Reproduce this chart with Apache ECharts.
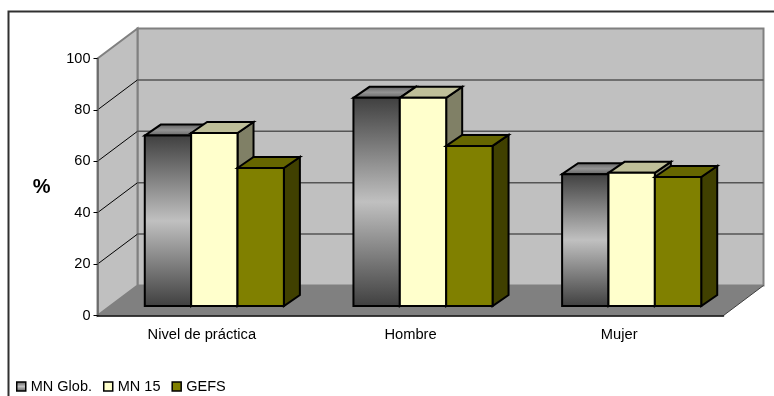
<!DOCTYPE html>
<html>
<head>
<meta charset="utf-8">
<style>html,body{margin:0;padding:0;background:#fff}#chart{width:774px;height:396px}</style>
<script src="https://cdn.jsdelivr.net/npm/echarts@6/dist/echarts.min.js"></script>
</head>
<body>
<div id="chart"></div>
<script>
// Chart content
const categories = ['Nivel de práctica', 'Hombre', 'Mujer'];
const mnGlob = [66.3, 81, 51.3];
const mn15 = [67.3, 81, 51.8];
const gefs = [53.7, 62.3, 50.2];
const yTicks = [0, 20, 40, 60, 80, 100];
const seriesNames = ['MN Glob.', 'MN 15', 'GEFS'];

// Oblique projection of the box and the bars, in pixels
const WALL_DX = 40, WALL_DY = 30;
const BAR_DX = 12.5, BAR_DY = 9.5;
const BAR_DEPTH_X = 16, BAR_DEPTH_Y = 11;
const FONT = '"Liberation Sans", Arial, sans-serif';

const vGrad = (a, b) => ({
  type: 'linear', x: 0, y: 0, x2: 0, y2: 1,
  colorStops: [{ offset: 0, color: a }, { offset: 0.5, color: b }, { offset: 1, color: a }]
});

const faces = [
  { front: vGrad('#3f3f3f', '#c0c0c0'), top: vGrad('#5e5e5e', '#949494'), side: '#555555' },
  { front: '#ffffcc', top: '#bfbf99', side: '#808066' },
  { front: '#808000', top: '#666600', side: '#404000' }
];

const poly = (points, fill, stroke, width) => ({
  type: 'polygon',
  shape: { points },
  style: { fill: fill, stroke: stroke || null, lineWidth: width || 0, lineJoin: 'miter' }
});
const line = (a, b, stroke, width) => ({
  type: 'line',
  shape: { x1: a[0], y1: a[1], x2: b[0], y2: b[1] },
  style: { stroke, lineWidth: width }
});

// Walls, floor and gridlines of the box, one tick at a time
function renderBox(params, api) {
  const g = params.coordSys;
  const tick = api.value(1);
  const y = api.coord([0, tick])[1];
  const x0 = g.x, x1 = g.x + g.width;
  const yT = g.y, yB = g.y + g.height;
  const children = [];
  if (params.dataIndex === 0) {
    children.push(
      poly([[x0 + WALL_DX, yT - WALL_DY], [x1 + WALL_DX, yT - WALL_DY], [x1 + WALL_DX, yB - WALL_DY], [x0 + WALL_DX, yB - WALL_DY]], '#c0c0c0', '#808080', 2),
      poly([[x0, yT], [x0 + WALL_DX, yT - WALL_DY], [x0 + WALL_DX, yB - WALL_DY], [x0, yB]], '#c0c0c0', '#808080', 2),
      poly([[x0, yB], [x0 + WALL_DX, yB - WALL_DY], [x1 + WALL_DX, yB - WALL_DY], [x1, yB]], '#808080'),
      line([x1, yB], [x1 + WALL_DX, yB - WALL_DY], '#404040', 1)
    );
  }
  if (tick > 0 && tick < yTicks[yTicks.length - 1]) {
    children.push(
      line([x0, y], [x0 + WALL_DX, y - WALL_DY], '#000000', 1),
      line([x0 + WALL_DX, y - WALL_DY], [x1 + WALL_DX, y - WALL_DY], '#555555', 1.5)
    );
  }
  return { type: 'group', children };
}

// One solid bar: side and top faces first, then the front
function renderBar(seriesIndex) {
  return function (params, api) {
    const cat = api.value(0);
    const w = api.size([1, 0])[0] / 4.5;
    const cx = api.coord([cat, 0])[0] + BAR_DX;
    const xL = cx - 1.5 * w + seriesIndex * w;
    const xR = xL + w;
    const yB = api.coord([cat, 0])[1] - BAR_DY;
    const yT = api.coord([cat, api.value(1)])[1] - BAR_DY;
    const f = faces[seriesIndex];
    const stroke = '#000000', lw = 2;
    return {
      type: 'group',
      children: [
        poly([[xR, yT], [xR + BAR_DEPTH_X, yT - BAR_DEPTH_Y], [xR + BAR_DEPTH_X, yB - BAR_DEPTH_Y], [xR, yB]], f.side, stroke, lw),
        poly([[xL, yT], [xL + BAR_DEPTH_X, yT - BAR_DEPTH_Y], [xR + BAR_DEPTH_X, yT - BAR_DEPTH_Y], [xR, yT]], f.top, stroke, lw),
        poly([[xL, yT], [xR, yT], [xR, yB], [xL, yB]], f.front, stroke, lw)
      ]
    };
  };
}

const barSeries = [mnGlob, mn15, gefs].map((values, s) => ({
  type: 'custom',
  name: seriesNames[s],
  coordinateSystem: 'cartesian2d',
  renderItem: renderBar(s),
  encode: { x: 0, y: 1 },
  data: values.map((v, i) => [i, v]),
  z: 3 + s
}));

const chart = echarts.init(document.getElementById('chart'), null, { renderer: 'canvas' });
chart.setOption({
  animation: false,
  backgroundColor: '#ffffff',
  textStyle: { fontFamily: FONT },
  grid: { left: 97.5, right: 50.5, top: 58.5, bottom: 80.5 },
  legend: {
    left: 11, top: 374, itemWidth: 9, itemHeight: 9, itemGap: 11,
    textStyle: { fontFamily: FONT, fontSize: 14.5, color: '#000' },
    data: seriesNames.map((name, s) => ({
      name, icon: 'rect',
      itemStyle: {
        color: s === 0 ? vGrad('#555555', '#c0c0c0') : faces[s].front,
        borderColor: '#000', borderWidth: 1.5
      }
    }))
  },
  xAxis: {
    type: 'category', data: categories, z: 6,
    axisLine: { onZero: false, lineStyle: { color: '#000', width: 1.5 } },
    axisTick: { length: 5, alignWithLabel: false, lineStyle: { color: '#000' } },
    axisLabel: { color: '#000', fontSize: 14.7, margin: 12, fontFamily: FONT }
  },
  yAxis: {
    type: 'value', min: 0, max: 100, interval: 20, z: 6,
    name: '%', nameLocation: 'middle', nameRotate: 0, nameGap: 47,
    nameTextStyle: { fontFamily: FONT, fontSize: 20, fontWeight: 'bold', color: '#000' },
    axisLine: { show: true, lineStyle: { color: '#666', width: 1.5 } },
    axisTick: { show: true, length: 4, lineStyle: { color: '#000' } },
    axisLabel: { color: '#000', fontSize: 14.5, margin: 7, fontFamily: FONT },
    splitLine: { show: false }
  },
  graphic: [
    { type: 'polyline', silent: true, shape: { points: [[8.5, 396], [8.5, 11.5], [774, 11.5]] },
      style: { stroke: '#303030', lineWidth: 2, fill: null } }
  ],
  series: [{
    type: 'custom',
    coordinateSystem: 'cartesian2d',
    renderItem: renderBox,
    encode: { x: 0, y: 1 },
    silent: true,
    data: yTicks.map(t => [0, t]),
    z: 2
  }].concat(barSeries)
});
</script>
</body>
</html>
